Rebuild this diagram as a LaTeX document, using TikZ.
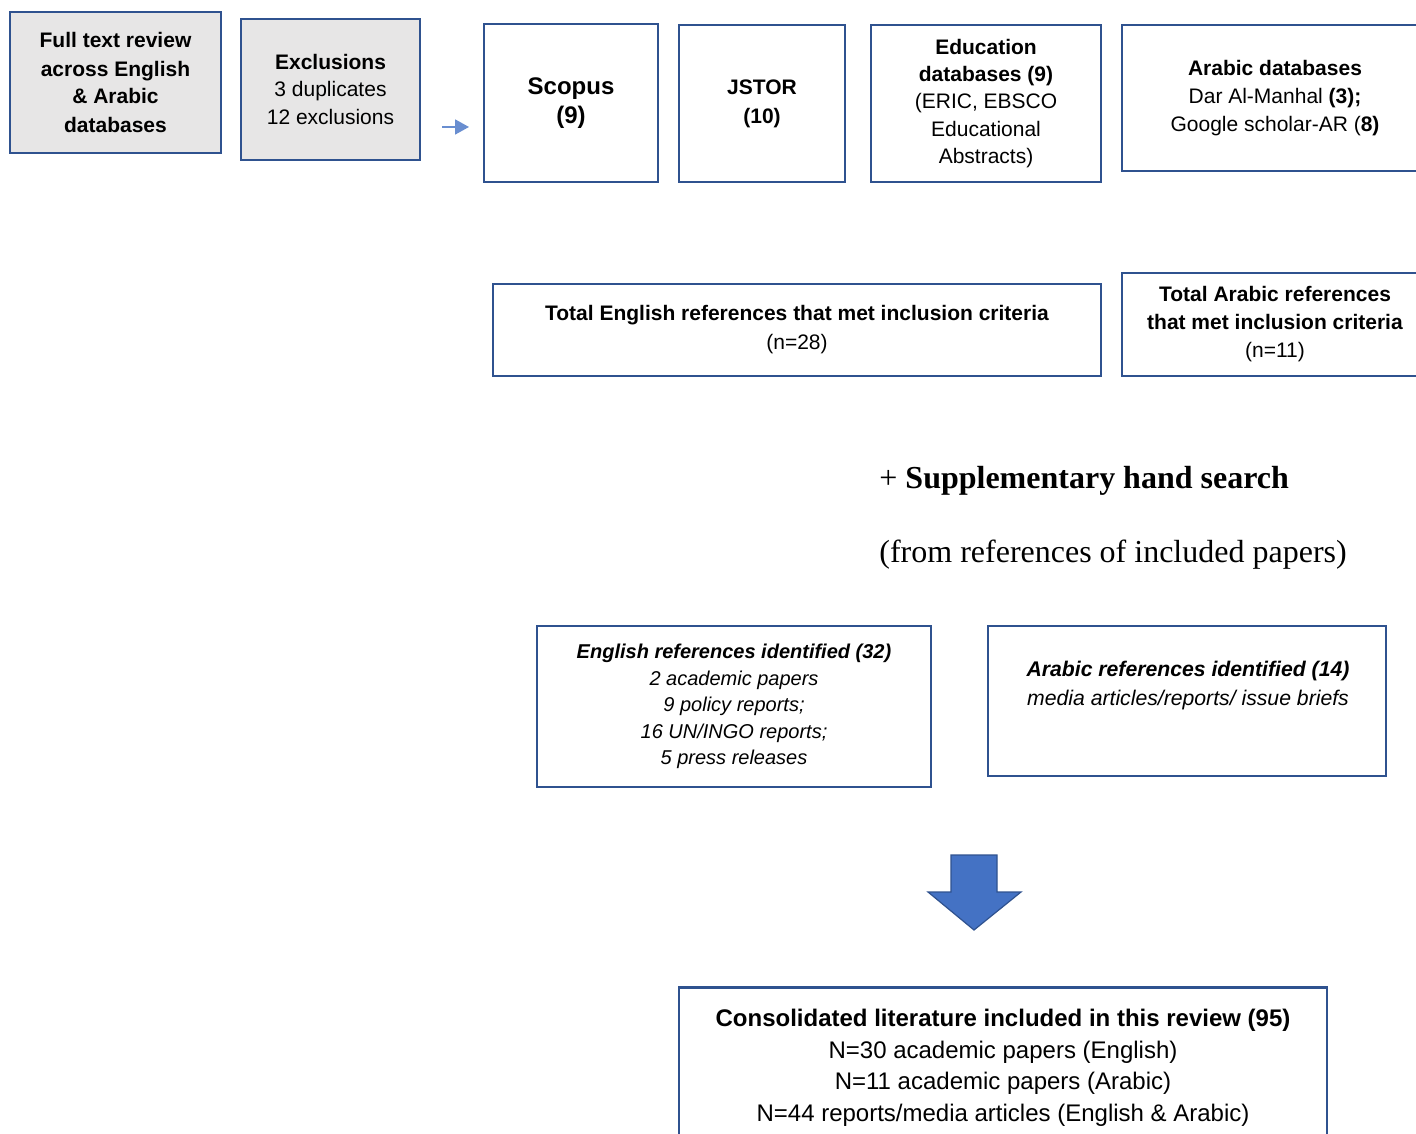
\documentclass[tikz,border=0pt]{standalone}
\usepackage{fontspec}
\setmainfont{Liberation Sans}
\newfontfamily\timesfont{Liberation Serif}
\usepackage{xcolor}
\usetikzlibrary{arrows.meta,positioning}
\definecolor{edgeblue}{RGB}{47,82,143}
\definecolor{fillblue}{RGB}{68,114,196}
\definecolor{boxgrey}{RGB}{231,230,230}
\newcommand{\fs}[2]{\fontsize{#1}{#2}\selectfont}

\begin{document}
\begin{tikzpicture}[x=0.5pt, y=-0.5pt,
  box/.style={draw=edgeblue, line width=1.2pt, align=center, inner sep=1pt,
    font=\fs{10.5}{14}},
  greybox/.style={box, fill=boxgrey}]
\useasboundingbox (0,0) rectangle (1416,1133);
\clip (0,0) rectangle (1416,1133);
% ---- top row: review, exclusions, sources
\node[greybox, minimum width=105.5pt, minimum height=70.5pt] (review) at (115.5,82.5)
  {\bfseries Full text review\\ \bfseries across English\\ \bfseries \& Arabic\\ \bfseries databases};
\node[greybox, minimum width=89.5pt, minimum height=70.5pt] (excl) at (330.5,89.5)
  {\textbf{Exclusions}\\ 3 duplicates\\ 12 exclusions};
\coordinate (arrfrom) at (442,127);
\coordinate (arrto) at (469,127);
\draw[-{Triangle[length=7pt,width=7.5pt]}, fillblue!80, line width=0.9pt] (arrfrom) -- (arrto);
\node[box, minimum width=87pt, minimum height=79pt, font=\fs{12}{14.5}\bfseries] (scopus) at (571,103)
  {\vphantom{g}Scopus\\ (9)};
\node[box, minimum width=83pt, minimum height=78.5pt, font=\fs{10.5}{14.5}\bfseries] (jstor) at (762,103.5)
  {\vphantom{g}JSTOR\\ (10)};
\node[box, minimum width=115pt, minimum height=78.5pt, font=\fs{10.5}{13.6}] (educ) at (986,103.5)
  {\textbf{Education}\\ \textbf{databases (9)}\\ (ERIC, EBSCO\\ Educational\\ Abstracts)};
\node[box, minimum width=153pt, minimum height=73pt] (arabdb) at (1275,98)
  {\textbf{Arabic databases}\\ Dar Al-Manhal \textbf{(3);}\\ Google scholar-AR (\textbf{8)}};
% ---- totals
\node[box, minimum width=304pt, minimum height=46pt, font=\fs{10.5}{14.5}] (toten) at (797,330)
  {\vphantom{g}\textbf{Total English references that met inclusion criteria}\\ (n=28)};
\node[box, minimum width=153pt, minimum height=51.5pt] (totar) at (1275,324.5)
  {\textbf{Total Arabic references}\\ \textbf{that met inclusion criteria}\\ (n=11)};
% ---- hand search
\node[anchor=base west, inner sep=0pt, font=\timesfont\fs{16}{18}] (hand) at (879,488)
  {+ \textbf{Supplementary hand search}};
\node[anchor=base west, inner sep=0pt, font=\timesfont\fs{16}{18}] (handsrc) at (879,562)
  {(from references of included papers)};
% ---- identified
\node[box, minimum width=197pt, minimum height=80.5pt, font=\fs{10}{13.25}\itshape] (iden) at (734,706.5)
  {\textbf{English references identified (32)}\\ 2 academic papers\\ 9 policy reports;\\ 16 UN/INGO reports;\\ 5 press releases};
\node[box, minimum width=199pt, minimum height=75pt] (idar) at (1187,701) {};
\node[align=center, font=\fs{10.6}{14.5}\itshape] (idartxt) at (1188,686)
  {\textbf{Arabic references identified (14)}\\ media articles/reports/ issue briefs};
% ---- block arrow and result
\draw[fill=fillblue, draw=edgeblue, line width=0.6pt]
  (951,855) -- (997,855) -- (997,892) -- (1021,892) -- (974,930) -- (928,892) -- (951,892) -- cycle;
\node[box, minimum width=324pt, minimum height=80.5pt, font=\fs{12}{15.75}] (consol) at (1003,1068)
  {\textbf{Consolidated literature included in this review (95)}\\ N=30 academic papers (English)\\
   N=11 academic papers (Arabic)\\ N=44 reports/media articles (English \& Arabic)};
\end{tikzpicture}
\end{document}
